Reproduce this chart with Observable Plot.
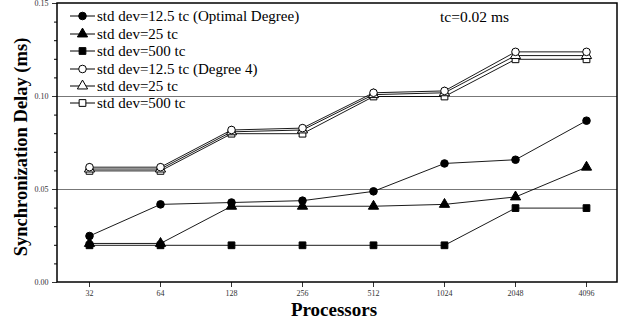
<!DOCTYPE html>
<html><head><meta charset="utf-8">
<script src="https://cdn.jsdelivr.net/npm/d3@7"></script>
<script src="https://cdn.jsdelivr.net/npm/@observablehq/plot@0.6"></script>
<style>body{margin:0;background:#fff;font-family:"Liberation Serif",serif}</style>
</head><body><div id="chart"></div>
<script>
const processors = ["32","64","128","256","512","1024","2048","4096"];
const opt125 = [0.025,0.042,0.043,0.044,0.049,0.064,0.066,0.087];
const opt25  = [0.021,0.021,0.041,0.041,0.041,0.042,0.046,0.062];
const opt500 = [0.020,0.020,0.020,0.020,0.020,0.020,0.040,0.040];
const deg125 = [0.062,0.062,0.082,0.083,0.102,0.103,0.124,0.124];
const deg25  = [0.061,0.061,0.081,0.082,0.101,0.102,0.122,0.122];
const deg500 = [0.060,0.060,0.080,0.080,0.100,0.100,0.120,0.120];
const seriesNames = ["std dev=12.5 tc (Optimal Degree)","std dev=25 tc","std dev=500 tc","std dev=12.5 tc (Degree 4)","std dev=25 tc","std dev=500 tc"];
const seriesValues = [opt125,opt25,opt500,deg125,deg25,deg500];
const seriesSymbols = ["circle","triangle","square","circle","triangle","square"];
const seriesFills = ["black","black","black","white","white","white"];
const yMajor = [0,0.05,0.10,0.15];
const yMinor = [0.01,0.02,0.03,0.04,0.06,0.07,0.08,0.09,0.11,0.12,0.13,0.14];
const gridVals = [0.05,0.10];
const note = "tc=0.02 ms";

const rows = [];
seriesValues.forEach((vals,s)=>vals.forEach((v,i)=>rows.push({s, p: processors[i], v})));

const FONT = '"Liberation Serif", "Times New Roman", serif';
const marks = [
  Plot.ruleY(gridVals,{stroke:"#777",strokeWidth:1.2}),
  Plot.axisY({ticks:yMajor, tickFormat:d3.format(".2f"), tickSize:5, fontSize:8, label:null, color:"#333"}),
  Plot.axisY({ticks:yMinor, tickSize:3, tickFormat:()=>"", label:null}),
  Plot.axisX({tickSize:5, fontSize:8, label:null, tickPadding:3, color:"#333"}),
];
for (let s = seriesValues.length-1; s >= 0; s--) {
  const d = rows.filter(r=>r.s===s);
  marks.push(Plot.line(d,{x:"p",y:"v",stroke:"black",strokeWidth:0.9}));
  marks.push(Plot.dot(d,{x:"p",y:"v",symbol:()=>seriesSymbols[s],r:3.8,fill:seriesFills[s],stroke:"black",strokeWidth:1}));
}

const plot = Plot.plot({
  width:621, height:324,
  marginLeft:57, marginRight:4, marginTop:3, marginBottom:42,
  style:{fontFamily:FONT,background:"white"},
  x:{type:"point", domain:processors, padding:0.4, label:null},
  y:{domain:[0,0.15], label:null},
  symbol:{type:"identity"},
  marks
});
const svg = d3.select(plot);
svg.selectAll("text").style("font-family",FONT);
// frame outline (drawn from scale ranges)
const xr = [57, 617], yr = plot.scale("y").range;
svg.append("rect").attr("x",xr[0]).attr("y",Math.min(...yr)).attr("width",xr[1]-xr[0]).attr("height",Math.abs(yr[0]-yr[1]))
  .attr("fill","none").attr("stroke","black").attr("stroke-width",1.5);
// legend
const legY = [16,34,51,69,86,103];
const sym = {circle:d3.symbolCircle, triangle:d3.symbolTriangle, square:d3.symbolSquare};
const lg = svg.append("g").attr("text-anchor","start");
seriesNames.forEach((name,i)=>{
  const y = legY[i];
  lg.append("line").attr("x1",70).attr("x2",95).attr("y1",y).attr("y2",y).attr("stroke","black").attr("stroke-width",1);
  lg.append("path").attr("d",d3.symbol(sym[seriesSymbols[i]], Math.PI*3.8*3.8)()).attr("transform",`translate(82.5,${y})`)
    .attr("fill",seriesFills[i]).attr("stroke","black");
  lg.append("text").attr("x",97).attr("y",y).attr("dy","0.35em").style("font-size","15px").style("font-family",FONT).text(name);
});
svg.append("text").attr("text-anchor","start").attr("x",440).attr("y",17).attr("dy","0.35em").style("font-size","15.5px").style("font-family",FONT).text(note);
svg.append("text").attr("transform","translate(27,147) rotate(-90)").attr("text-anchor","middle").style("font-size","18.5px").style("font-weight","bold").style("font-family",FONT).text("Synchronization Delay (ms)");
svg.append("text").attr("x",334).attr("y",316).attr("text-anchor","middle").style("font-size","19px").style("font-weight","bold").style("font-family",FONT).text("Processors");
document.getElementById("chart").appendChild(plot);
</script></body></html>
